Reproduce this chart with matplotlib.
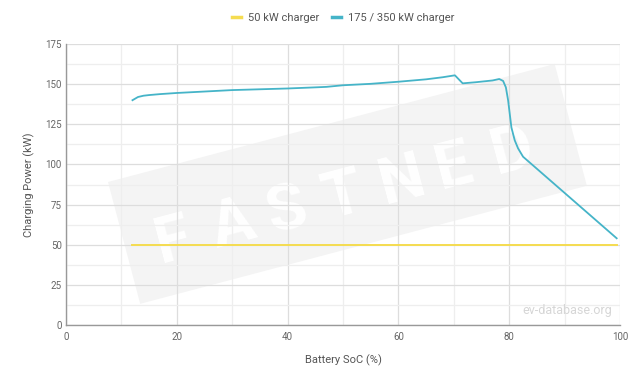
#!/usr/bin/env python3
import numpy as np
import matplotlib
matplotlib.use('Agg')
import matplotlib.pyplot as plt
from matplotlib.patches import Polygon

# data
soc_fast = [12, 12.5, 13, 14, 15, 17, 20, 25, 30, 35, 40, 45, 47, 50, 55, 60, 65, 68, 70.2,
            71.6, 74, 77, 78.2, 78.9, 79.4, 79.8, 80.4, 81, 81.6, 82.5, 99.4]
kw_fast = [140, 141, 142, 142.8, 143.2, 143.8, 144.5, 145.4, 146.3, 146.8, 147.3, 148, 148.3, 149.3,
           150.2, 151.5, 153, 154.3, 155.5,
           150.5, 151.2, 152.3, 153.2, 152, 148, 140, 123, 115, 110, 104.8, 54]
soc_slow = [12, 99.4]
kw_slow = [50, 50]

xticks = [0, 20, 40, 60, 80, 100]
yticks = [0, 25, 50, 75, 100, 125, 150, 175]

plt.rcParams['font.family'] = ['Roboto', 'DejaVu Sans']

fig = plt.figure(figsize=(6.4, 3.72), dpi=100)
ax = fig.add_axes([66/640, 1 - 325/372, 554/640, 281/372])
ax.set_zorder(2)

# watermark rectangle + text (figure pixel coords)
def px(x, y):
    return (x/640, 1 - y/372)

ang = np.deg2rad(14.8)
u = np.array([np.cos(ang), -np.sin(ang)])
n = np.array([np.sin(ang), np.cos(ang)])
tl = np.array([108, 182])
w, h = 462, 126
corners = [tl, tl + u*w, tl + u*w + n*h, tl + n*h]
fig.patches.append(Polygon([px(*c) for c in corners], closed=True, transform=fig.transFigure,
                           facecolor='#f4f4f4', edgecolor='none', zorder=0))
start = tl + u*30 + n*92
for i, ch in enumerate('FASTNED'):
    p = start + u*(i*58)
    fig.text(*px(*p), ch, fontsize=46, fontweight='bold', color='white', rotation=14.8,
             ha='left', va='baseline', rotation_mode='anchor', zorder=0.5)

ax.set_facecolor('none')
ax.set_xlim(0, 100)
ax.set_ylim(0, 175)
ax.set_xticks(xticks)
ax.set_yticks(yticks)
ax.set_xticks(np.arange(10, 100, 20), minor=True)
ax.set_yticks(np.arange(12.5, 175, 25), minor=True)
ax.grid(which='major', color='#dddddd', lw=0.9)
ax.grid(which='minor', color='#eeeeee', lw=0.9)
ax.tick_params(which='both', length=0, labelsize=7, colors='#666666', pad=5)
ax.tick_params(axis='y', pad=3)
for s in ['top', 'right']:
    ax.spines[s].set_visible(False)
for s in ['left', 'bottom']:
    ax.spines[s].set_color('#999999')
    ax.spines[s].set_linewidth(1)

ax.plot(soc_slow, kw_slow, color='#f5dc50', lw=1.4, label='50 kW charger', zorder=3)
ax.plot(soc_fast, kw_fast, color='#45b4c8', lw=1.3, label='175 / 350 kW charger', zorder=4)

ax.set_xlabel('Battery SoC (%)', fontsize=8, color='#555555', labelpad=9)
ax.set_ylabel('Charging Power (kW)', fontsize=8, color='#555555', labelpad=7)

ax.text(0.985, 0.03, 'ev-database.org', transform=ax.transAxes, ha='right', va='bottom',
        fontsize=9, color='#d6d6d6')

leg = ax.legend(loc='center', bbox_to_anchor=(0.5, 1.0 + 26/281), ncol=2, frameon=False,
                fontsize=8, handlelength=0.8, handletextpad=0.6, columnspacing=1.2)
for t in leg.get_texts():
    t.set_color('#555555')
for l in leg.get_lines():
    l.set_linewidth(2.5)

fig.savefig('out.png', dpi=100)
